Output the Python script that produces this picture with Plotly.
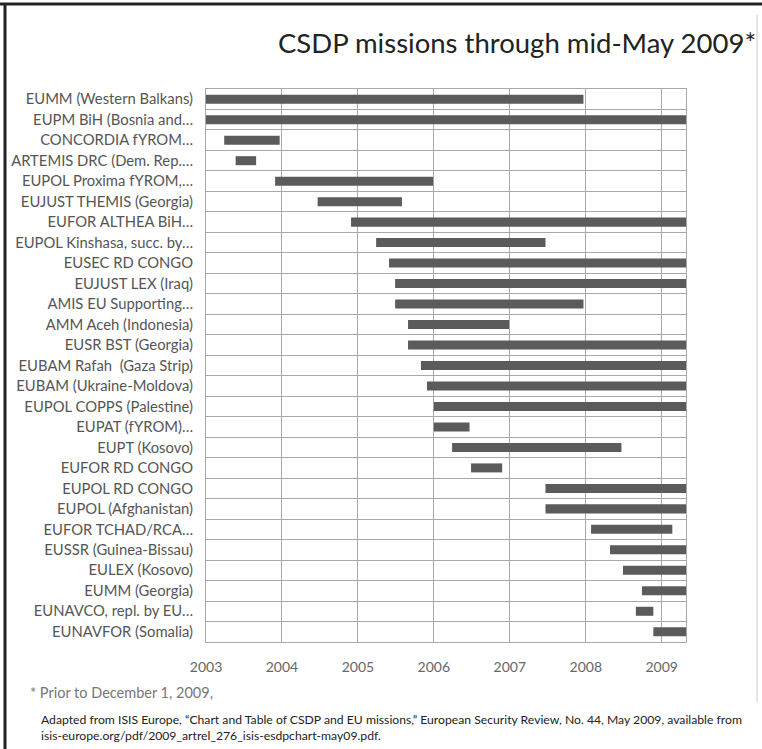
import plotly.graph_objects as go

missions = [
    "EUMM (Western Balkans)", "EUPM BiH (Bosnia and…", "CONCORDIA fYROM…",
    "ARTEMIS DRC (Dem. Rep.…", "EUPOL Proxima fYROM,…", "EUJUST THEMIS (Georgia)",
    "EUFOR ALTHEA BiH…", "EUPOL Kinshasa, succ. by…", "EUSEC RD CONGO",
    "EUJUST LEX (Iraq)", "AMIS EU Supporting…", "AMM Aceh (Indonesia)",
    "EUSR BST (Georgia)", "EUBAM Rafah  (Gaza Strip)", "EUBAM (Ukraine-Moldova)",
    "EUPOL COPPS (Palestine)", "EUPAT (fYROM)…", "EUPT (Kosovo)",
    "EUFOR RD CONGO", "EUPOL RD CONGO", "EUPOL (Afghanistan)",
    "EUFOR TCHAD/RCA…", "EUSSR (Guinea-Bissau)", "EULEX (Kosovo)",
    "EUMM (Georgia)", "EUNAVCO, repl. by EU…", "EUNAVFOR (Somalia)",
]
start_year = [
    2003.0, 2003.0, 2003.24, 2003.39, 2003.91, 2004.47, 2004.91, 2005.24, 2005.41,
    2005.49, 2005.49, 2005.66, 2005.66, 2005.83, 2005.91, 2006.0, 2006.0, 2006.24,
    2006.49, 2007.47, 2007.47, 2008.07, 2008.32, 2008.49, 2008.74, 2008.66, 2008.89,
]
end_year = [
    2007.97, 2009.32, 2003.97, 2003.66, 2005.99, 2005.58, 2009.32, 2007.47, 2009.32,
    2009.32, 2007.97, 2006.99, 2009.32, 2009.32, 2009.32, 2009.32, 2006.47, 2008.47,
    2006.9, 2009.32, 2009.32, 2009.14, 2009.32, 2009.32, 2009.32, 2008.89, 2009.32,
]
year_ticks = [2003, 2004, 2005, 2006, 2007, 2008, 2009]

durations = [e - s for s, e in zip(start_year, end_year)]

FONT = "Lato"
fig = go.Figure()
fig.add_trace(go.Bar(
    y=missions, x=durations, base=start_year, orientation="h",
    marker=dict(color="#5b5b5b", line=dict(width=0)), width=0.44,
    hoverinfo="skip",
))

fig.update_layout(
    width=762, height=749,
    margin=dict(l=206, r=76, t=89, b=107, pad=0),
    paper_bgcolor="white", plot_bgcolor="white",
    showlegend=False,
    font=dict(family=FONT, color="#555555", size=13),
    xaxis=dict(
        range=[2003, 2009.32], tickvals=year_ticks, ticktext=[str(y) for y in year_ticks],
        showgrid=True, gridcolor="#a8a8a8", gridwidth=1,
        showline=True, linecolor="#a8a8a8", mirror=True, zeroline=False,
        ticks="", ticklabelstandoff=12, tickfont=dict(size=14, color="#666666"),
        fixedrange=True, automargin=False,
    ),
    yaxis=dict(
        type="category", categoryorder="array", categoryarray=missions,
        autorange="reversed", tickson="boundaries",
        showgrid=True, gridcolor="#a8a8a8", gridwidth=1,
        showline=True, linecolor="#a8a8a8", mirror=True,
        ticks="", ticklabelstandoff=9, tickfont=dict(size=14.8, color="#555555"),
        fixedrange=True, automargin=False,
    ),
)

fig.add_annotation(
    text="CSDP missions through mid-May 2009*", xref="paper", yref="paper",
    x=1.0, xshift=72, y=1.0, yshift=47, xanchor="right", yanchor="middle",
    showarrow=False, font=dict(family=FONT, size=27.5, color="#222222"),
)
fig.add_annotation(
    text="* Prior to December 1, 2009,", xref="paper", yref="paper",
    x=0, xshift=-178, y=0, yshift=-50, xanchor="left", yanchor="middle",
    showarrow=False, font=dict(family=FONT, size=14.5, color="#777777"),
)
fig.add_annotation(
    text=("Adapted from ISIS Europe, “Chart and Table of CSDP and EU missions,” European Security Review, "
          "No. 44, May 2009, available from<br>isis-europe.org/pdf/2009_artrel_276_isis-esdpchart-may09.pdf."),
    xref="paper", yref="paper", x=0, xshift=-167, y=0, yshift=-85,
    xanchor="left", yanchor="middle", align="left",
    showarrow=False, font=dict(family=FONT, size=12.2, color="#222222"),
)

# frame
fig.add_shape(type="line", xref="paper", yref="paper", x0=-206/480, x1=1 + 76/480,
              y0=1 + 85/553, y1=1 + 85/553, line=dict(color="#222222", width=3))
fig.add_shape(type="line", xref="paper", yref="paper", x0=-201/480, x1=-201/480,
              y0=1 + 85/553, y1=-107/553, line=dict(color="#222222", width=3))
fig.add_shape(type="line", xref="paper", yref="paper", x0=1 + 71/480, x1=1 + 71/480,
              y0=1 + 74/553, y1=-60/553, line=dict(color="#dddddd", width=1.5))

fig.write_html("out.html", config={"displayModeBar": False},
               post_script="document.body.style.margin='0';")
